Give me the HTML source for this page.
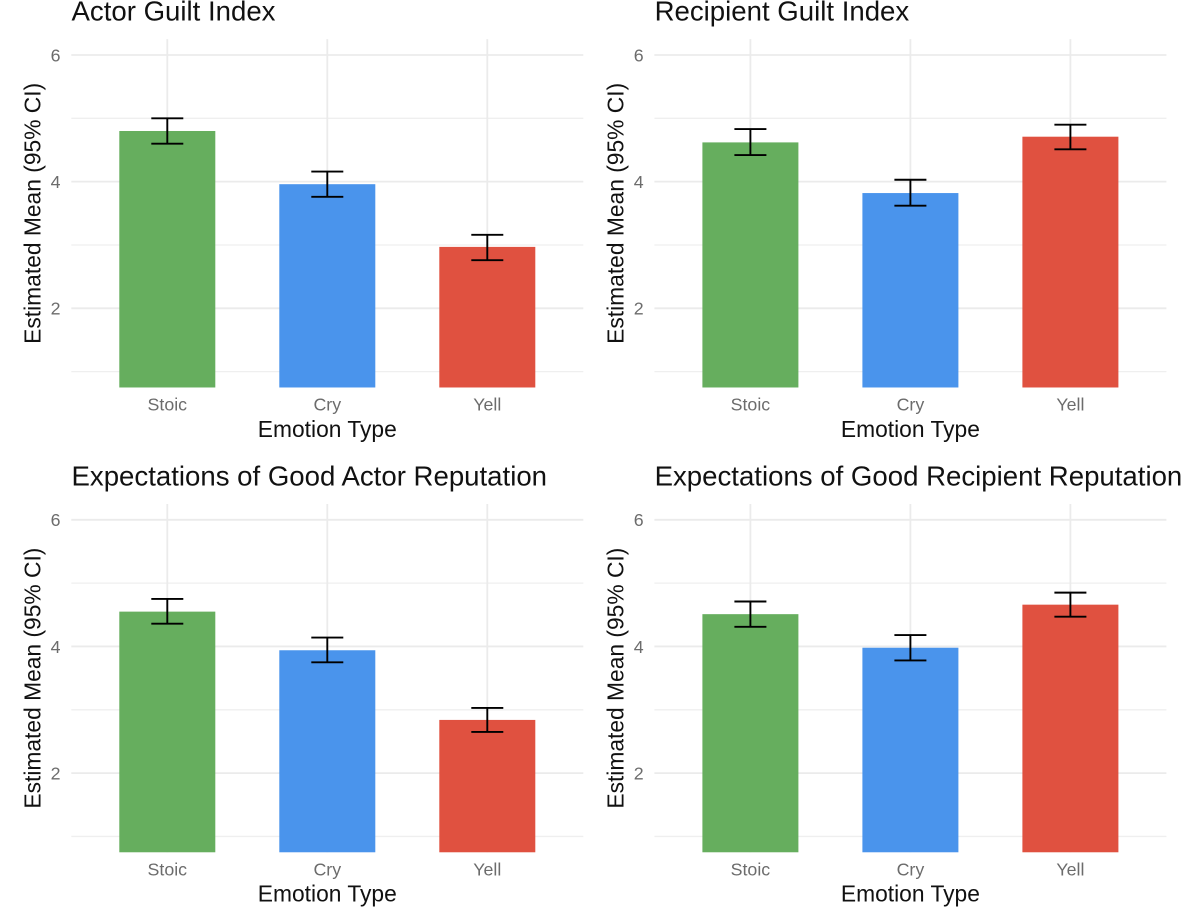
<!DOCTYPE html>
<html>
<head>
<meta charset="utf-8">
<title>Estimated Means by Emotion Type</title>
<style>
html,body{margin:0;padding:0;background:#fff;}
#chart{display:block;width:1200px;height:909px;font-family:"Liberation Sans",Arial,sans-serif;filter:blur(0.35px);}
</style>
</head>
<body>
<svg id="chart" xmlns="http://www.w3.org/2000/svg" width="1200" height="909" viewBox="0 0 1200 909"></svg>
<script>
const categories = ['Stoic', 'Cry', 'Yell'];
const majorTicks = [2, 4, 6];
const minorTicks = [1, 3, 5];
const xAxisTitle = 'Emotion Type';
const yAxisTitle = 'Estimated Mean (95% CI)';

const titles = ['Actor Guilt Index', 'Recipient Guilt Index', 'Expectations of Good Actor Reputation', 'Expectations of Good Recipient Reputation'];

const actorGuiltMeans = [4.80, 3.96, 2.97];
const actorGuiltLower = [4.60, 3.76, 2.76];
const actorGuiltUpper = [5.00, 4.16, 3.16];

const recipientGuiltMeans = [4.62, 3.82, 4.71];
const recipientGuiltLower = [4.42, 3.62, 4.51];
const recipientGuiltUpper = [4.83, 4.03, 4.90];

const actorReputationMeans = [4.55, 3.94, 2.84];
const actorReputationLower = [4.36, 3.75, 2.65];
const actorReputationUpper = [4.75, 4.14, 3.03];

const recipientReputationMeans = [4.51, 3.98, 4.66];
const recipientReputationLower = [4.31, 3.78, 4.47];
const recipientReputationUpper = [4.71, 4.18, 4.85];

const allMeans = [actorGuiltMeans, recipientGuiltMeans, actorReputationMeans, recipientReputationMeans];
const allLower = [actorGuiltLower, recipientGuiltLower, actorReputationLower, recipientReputationLower];
const allUpper = [actorGuiltUpper, recipientGuiltUpper, actorReputationUpper, recipientReputationUpper];

const svg = document.getElementById('chart');
const NS = 'http://www.w3.org/2000/svg';
const barColors = ['#66AE5E', '#4A94EC', '#E05140'];
const unitPx = 63.33;
const bandPx = 160;
const panelWidth = 512;
const domainTop = 6.25;
const domainBottom = 0.75;

function make(parent, tag, attrs, text) {
  const el = document.createElementNS(NS, tag);
  for (const k in attrs) el.setAttribute(k, attrs[k]);
  if (text !== undefined) el.textContent = text;
  parent.appendChild(el);
  return el;
}

titles.forEach(function (title, p) {
  const left = p % 2 === 0 ? 71.3 : 654.4;
  const sixY = p < 2 ? 55 : 519.8;
  const xScale = function (i) { return left + 96 + i * bandPx; };
  const yScale = function (v) { return sixY + (6 - v) * unitPx; };
  const right = left + panelWidth;
  const top = yScale(domainTop);
  const bottom = yScale(domainBottom);

  const g = make(svg, 'g', {});
  
  

  const titleEl = make(g, 'text', { x: left + 0.2, y: sixY - 34.3, 'font-size': 27.6, fill: '#111' }, title);
  
  

  minorTicks.forEach(function (t) {
    const line = make(g, 'line', { x1: left, x2: right, y1: yScale(t), y2: yScale(t), stroke: '#efefef', 'stroke-width': 1.3 });
    
    
  });

  majorTicks.forEach(function (t) {
    const line = make(g, 'line', { x1: left, x2: right, y1: yScale(t), y2: yScale(t), stroke: '#ebebeb', 'stroke-width': 1.8 });
    
    
    const label = make(g, 'text', { x: left - 10.8, y: yScale(t) + 6.4, 'font-size': 17.8, fill: '#6c6c6c', 'text-anchor': 'end' }, String(t));
    
    
  });

  categories.forEach(function (c, i) {
    const line = make(g, 'line', { x1: xScale(i), x2: xScale(i), y1: top, y2: bottom, stroke: '#ebebeb', 'stroke-width': 1.8 });
    
    
  });

  categories.forEach(function (c, i) {
    const bar = make(g, 'rect', { x: xScale(i) - 48, y: yScale(allMeans[p][i]), width: 96, height: bottom - yScale(allMeans[p][i]), fill: barColors[i] });
    
    

    const yLow = yScale(allLower[p][i]);
    const yHigh = yScale(allUpper[p][i]);
    const errorBar = make(g, 'path', {
      d: 'M' + (xScale(i) - 16) + ' ' + yHigh + 'H' + (xScale(i) + 16) + 'M' + xScale(i) + ' ' + yHigh + 'V' + yLow + 'M' + (xScale(i) - 16) + ' ' + yLow + 'H' + (xScale(i) + 16),
      stroke: '#000', 'stroke-width': 1.9, fill: 'none'
    });
    
    

    const label = make(g, 'text', { x: xScale(i), y: bottom + 23, 'font-size': 17.8, fill: '#6c6c6c', 'text-anchor': 'middle' }, c);
    
    
  });

  const xTitle = make(g, 'text', { x: xScale(1), y: bottom + 49.3, 'font-size': 22.8, fill: '#111', 'text-anchor': 'middle' }, xAxisTitle);
  
  

  const yMid = (top + bottom) / 2;
  const yX = left - 30.7;
  const yTitle = make(g, 'text', { x: yX, y: yMid, 'font-size': 22.8, fill: '#111', 'text-anchor': 'middle', transform: 'rotate(-90 ' + yX + ' ' + yMid + ')' }, yAxisTitle);
  
  
});
</script>
</body>
</html>
